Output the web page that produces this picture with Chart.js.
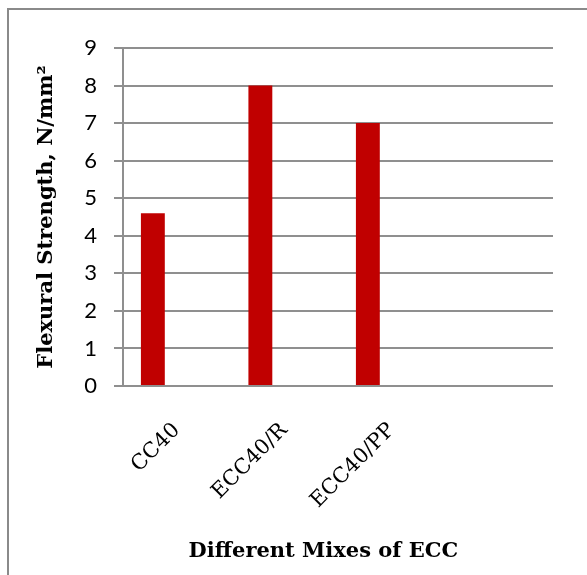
<!DOCTYPE html>
<html>
<head>
<meta charset="utf-8">
<script src="https://cdn.jsdelivr.net/npm/chart.js@4.4.1/dist/chart.umd.min.js"></script>
<style>
  html, body { margin: 0; padding: 0; background: #ffffff; overflow: hidden; }
  #wrap { position: relative; width: 587px; height: 575px; }
</style>
</head>
<body>
<div id="wrap"><canvas id="chart" width="587" height="575"></canvas></div>
<script>
// Mix labels (last slot left blank) and flexural strength values in N/mm²
const categories = ['CC40', 'ECC40/R', 'ECC40/PP', ''];
const flexuralStrength = [4.6, 8, 7, null];
const emptySeriesA = [null, null, null, null];
const emptySeriesB = [null, null, null, null];
const yTicks = [0, 1, 2, 3, 4, 5, 6, 7, 8, 9];

const gridColor = '#8f8f8f';
const serif = '"DejaVu Serif", "Liberation Serif", serif';

// Grey frame along the top and left edges of the canvas
const framePlugin = {
  id: 'frame',
  beforeDraw(chart) {
    const ctx = chart.ctx;
    ctx.save();
    ctx.strokeStyle = '#8a8a8a';
    ctx.lineWidth = 2;
    ctx.beginPath();
    ctx.moveTo(8, chart.height + 5);
    ctx.lineTo(8, 9);
    ctx.lineTo(chart.width + 5, 9);
    ctx.stroke();
    ctx.restore();
  }
};

new Chart(document.getElementById('chart'), {
  type: 'bar',
  data: {
    labels: categories,
    datasets: [
      { data: flexuralStrength, backgroundColor: '#C00000', borderWidth: 0 },
      { data: emptySeriesA, backgroundColor: '#4F81BD', borderWidth: 0 },
      { data: emptySeriesB, backgroundColor: '#9BBB59', borderWidth: 0 }
    ]
  },
  options: {
    responsive: false,
    animation: false,
    devicePixelRatio: 1,
    datasets: { bar: { categoryPercentage: 0.6667, barPercentage: 1.0 } },
    layout: { padding: { left: 0, top: 48, right: 34, bottom: 0 } },
    plugins: {
      legend: { display: false },
      tooltip: { enabled: false }
    },
    scales: {
      x: {
        grid: { display: false, drawTicks: false },
        border: { display: false },
        ticks: {
          color: '#000000',
          font: { family: serif, size: 21 },
          minRotation: 45,
          maxRotation: 45,
          padding: 32,
          autoSkip: false
        },
        title: {
          display: true,
          // trailing no-break spaces nudge the centred title a little to the left
          text: 'Different Mixes of ECC\u00A0\u00A0\u00A0\u00A0',
          color: '#000000',
          font: { family: serif, size: 21, weight: 'bold' },
          padding: { top: 0, bottom: 11 }
        },
        afterFit(scale) { scale.height = 189; }
      },
      y: {
        min: 0,
        max: 9,
        afterBuildTicks(scale) { scale.ticks = yTicks.map(v => ({ value: v })); },
        grid: { color: gridColor, lineWidth: 2, tickLength: 9, drawTicks: true },
        border: { display: true, color: gridColor, width: 2 },
        ticks: {
          color: '#000000',
          font: { family: 'Lato, "Open Sans", sans-serif', size: 22 },
          padding: 17
        },
        title: {
          display: true,
          text: 'Flexural Strength, N/mm²',
          color: '#000000',
          font: { family: serif, size: 21, weight: 'bold' },
          padding: { top: 34, bottom: 0 }
        },
        afterFit(scale) { scale.width = 123; }
      }
    }
  },
  plugins: [framePlugin]
});
</script>
</body>
</html>
